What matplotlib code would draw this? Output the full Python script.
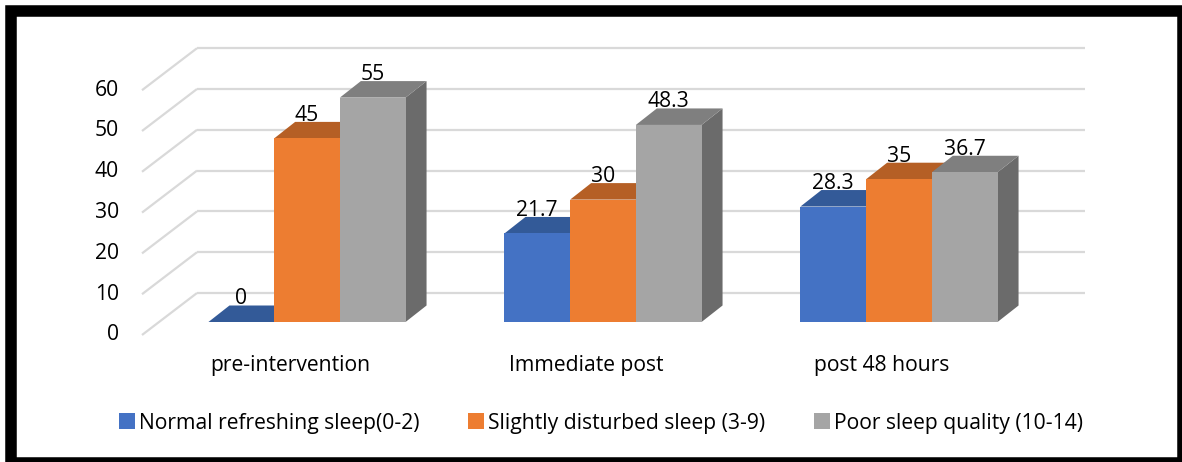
import matplotlib.pyplot as plt
from matplotlib.patches import Polygon, Rectangle, Patch

plt.rcParams['font.family'] = ['Open Sans', 'DejaVu Sans']

categories = ['pre-intervention', 'Immediate post', 'post 48 hours']
series = ['Normal refreshing sleep(0-2)', 'Slightly disturbed sleep (3-9)', 'Poor sleep quality (10-14)']
normal = [0, 21.7, 28.3]
slightly = [45, 30, 35]
poor = [55, 48.3, 36.7]
yticks = [0, 10, 20, 30, 40, 50, 60]

front_cols = ['#4472C4', '#ED7D31', '#A5A5A5']
top_cols = ['#335A98', '#B55F25', '#7F7F7F']
side_cols = ['#2F528F', '#AE5A21', '#6B6B6B']

# pixel scale of the fake 3d projection
W, H = 1182, 462
sx, sy = 296.0, 4.08          # px per category, px per value unit
x0, y0 = 142, 335             # front-left floor corner (px)
wall_dx, wall_dy = 55 / sx, 42 / sy
bar_dx0, bar_dy0 = 17 / sx, 13 / sy
dep_dx, dep_dy = 21 / sx, 16.5 / sy
bw = 65.7 / sx
fs = 15.2

fig = plt.figure(figsize=(W / 100, H / 100), dpi=100)
ax = fig.add_axes([0, 0, 1, 1])
ax.set_xlim(-x0 / sx, (W - x0) / sx)
ax.set_ylim(-(H - y0) / sy, y0 / sy)
ax.axis('off')

n = len(categories)
grid_c = '#D9D9D9'
for v in yticks:
    ax.plot([0, wall_dx], [v, v + wall_dy], color=grid_c, lw=1.6, zorder=1, solid_capstyle='butt')
    ax.plot([wall_dx, n + wall_dx], [v + wall_dy, v + wall_dy], color=grid_c, lw=1.6, zorder=1,
            solid_capstyle='butt')
    ax.text((119 - x0) / sx, v, str(v), ha='right', va='center', fontsize=fs)

data = [normal, slightly, poor]
for i in range(n):
    for j, vals in enumerate(data):
        v = vals[i]
        xl = i + 0.5 + (j - 1.5) * bw + bar_dx0
        yb = bar_dy0
        yt = yb + v
        z = 5 + i * 10 + j * 3
        side = [(xl + bw, yb), (xl + bw + dep_dx, yb + dep_dy), (xl + bw + dep_dx, yt + dep_dy), (xl + bw, yt)]
        top = [(xl, yt), (xl + bw, yt), (xl + bw + dep_dx, yt + dep_dy), (xl + dep_dx, yt + dep_dy)]
        ax.add_patch(Polygon(side, closed=True, facecolor=side_cols[j], edgecolor='none', zorder=z))
        ax.add_patch(Polygon(top, closed=True, facecolor=top_cols[j], edgecolor='none', zorder=z + 1))
        if v > 0:
            ax.add_patch(Rectangle((xl, yb), bw, v, facecolor=front_cols[j], edgecolor='none', zorder=z + 2))
        ax.text(xl + bw / 2, yt + dep_dy + 1 / sy, f'{v:g}', ha='center', va='baseline',
                fontsize=fs, zorder=50)

for i, c in enumerate(categories):
    ax.text(i + 0.5, (y0 - 366) / sy, c, ha='center', va='center', fontsize=fs)

handles = [Patch(facecolor=c, edgecolor='none') for c in front_cols]
fig.legend(handles, series, loc='center', bbox_to_anchor=(601 / W, 1 - 423 / H), ncol=3,
           frameon=False, fontsize=fs, handlelength=0.75, handleheight=0.75,
           handletextpad=0.2, columnspacing=2.3, borderpad=0)

fig.patches.append(Rectangle((10.5 / W, -1 / H), (1183 - 10.5) / W, (463 - 11) / H,
                             transform=fig.transFigure, fill=False, edgecolor='black', lw=8.3,
                             joinstyle='miter'))

fig.savefig('out.png', dpi=100)
